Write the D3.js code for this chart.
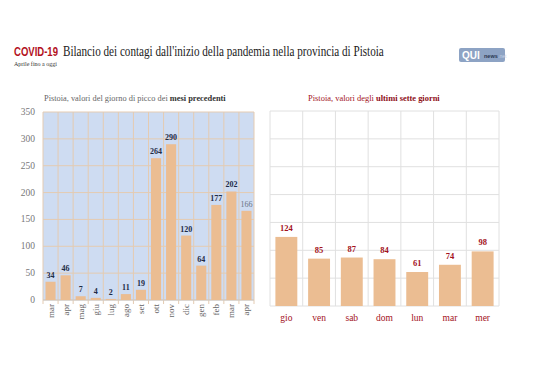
<!DOCTYPE html>
<html>
<head>
<meta charset="utf-8">
<script src="https://cdn.jsdelivr.net/npm/d3@7"></script>
<style>
  body { margin: 0; background: #fff; }
  svg { display: block; }
</style>
</head>
<body>
<div id="chart"></div>
<script>
// mesi precedenti (picco mensile)
var monthLabels = ["mar", "apr", "mag", "giu", "lug", "ago", "set", "ott", "nov", "dic", "gen", "feb", "mar", "apr"];
var monthValues = [34, 46, 7, 4, 2, 11, 19, 264, 290, 120, 64, 177, 202, 166];

// ultimi sette giorni
var dayLabels = ["gio", "ven", "sab", "dom", "lun", "mar", "mer"];
var dayValues = [124, 85, 87, 84, 61, 74, 98];

var yTicks = [0, 50, 100, 150, 200, 250, 300, 350];

var W = 538, H = 380;
var barColor = "#ebbd92";
var serif = "'Liberation Serif', 'DejaVu Serif', serif";
var sans = "'Liberation Sans', 'DejaVu Sans', sans-serif";

var svg = d3.select("#chart").append("svg")
  .attr("width", W).attr("height", H)
  .attr("font-family", serif);

// adatta la dimensione del font per ottenere la larghezza voluta
function fit(sel, width) {
  var node = sel.node();
  var fs = parseFloat(sel.style("font-size"));
  var len = node.getComputedTextLength();
  if (len > 0) sel.style("font-size", (fs * width / len) + "px");
}

// comprime orizzontalmente un testo posto in (x, y)
function squeeze(sel, x, y, width) {
  var len = sel.node().getComputedTextLength();
  sel.attr("x", 0).attr("y", 0)
    .attr("transform", "translate(" + x + "," + y + ") scale(" + (width / len) + ",1)");
}

// titolo
var c19 = svg.append("text")
  .attr("font-family", sans)
  .style("font-weight", "bold")
  .style("font-size", "13px")
  .attr("fill", "#b3121d")
  .text("COVID-19");
squeeze(c19, 14, 56, 44);

var tt = svg.append("text")
  .attr("font-family", serif)
  .style("font-size", "14.5px")
  .attr("fill", "#222")
  .text("Bilancio dei contagi dall'inizio della pandemia nella provincia di Pistoia");
squeeze(tt, 63, 56, 321);

var st = svg.append("text")
  .attr("x", 14).attr("y", 66)
  .style("font-size", "7px")
  .attr("fill", "#333")
  .text("Aprile fino a oggi");
fit(st, 43);

// logo
var logo = svg.append("g").attr("transform", "translate(459,48)");
logo.append("rect").attr("width", 46).attr("height", 14).attr("rx", 2)
  .attr("fill", "#8da3c4");
logo.append("text").attr("x", 3).attr("y", 11)
  .attr("font-family", sans)
  .style("font-weight", "bold").style("font-size", "10px")
  .attr("fill", "#fff").text("QUI");
logo.append("text").attr("x", 25).attr("y", 10)
  .attr("font-family", sans)
  .style("font-weight", "bold").style("font-size", "5.5px")
  .attr("fill", "#2b3550").text("news");
logo.append("text").attr("x", 39).attr("y", 10)
  .attr("font-family", sans)
  .style("font-size", "5px")
  .attr("fill", "#c8d4e6").text(".net");

// ---------- grafico di sinistra ----------
var left = { x0: 43, x1: 254, y0: 300, y1: 112 };

var xL = d3.scaleBand()
  .domain(d3.range(monthLabels.length))
  .range([left.x0, left.x1])
  .paddingInner(0.33).paddingOuter(0.165);

var yL = d3.scaleLinear().domain([0, 350]).range([left.y0, left.y1]);

var gL = svg.append("g");

gL.append("rect")
  .attr("x", left.x0).attr("y", left.y1)
  .attr("width", left.x1 - left.x0).attr("height", left.y0 - left.y1)
  .attr("fill", "#cedcf2");

gL.selectAll(".hgrid").data(yTicks).enter().append("line")
  .attr("x1", left.x0).attr("x2", left.x1)
  .attr("y1", function(d) { return yL(d); })
  .attr("y2", function(d) { return yL(d); })
  .attr("stroke", "#e4cbb2").attr("stroke-width", 1);

gL.selectAll(".vgrid").data(d3.range(monthLabels.length + 1)).enter().append("line")
  .attr("x1", function(i) { return left.x0 + i * xL.step(); })
  .attr("x2", function(i) { return left.x0 + i * xL.step(); })
  .attr("y1", left.y1).attr("y2", left.y0 + 4)
  .attr("stroke", "#e4cbb2").attr("stroke-width", 1);

gL.append("line")
  .attr("x1", left.x0).attr("x2", left.x1)
  .attr("y1", left.y0).attr("y2", left.y0)
  .attr("stroke", "#c9c9c9");

gL.selectAll(".bar").data(monthValues).enter().append("rect")
  .attr("x", function(d, i) { return xL(i); })
  .attr("y", function(d) { return yL(d); })
  .attr("width", xL.bandwidth())
  .attr("height", function(d) { return left.y0 - yL(d); })
  .attr("fill", barColor);

gL.selectAll(".val").data(monthValues).enter().append("text")
  .attr("x", function(d, i) { return xL(i) + xL.bandwidth() / 2; })
  .attr("y", function(d) { return yL(d) - 4; })
  .attr("text-anchor", "middle")
  .style("font-size", "8px")
  .style("font-weight", function(d, i) { return i === monthValues.length - 1 ? "normal" : "bold"; })
  .attr("fill", function(d, i) { return i === monthValues.length - 1 ? "#6a7384" : "#1f2b45"; })
  .text(function(d) { return d; });

gL.selectAll(".ytick").data(yTicks).enter().append("text")
  .attr("x", 35)
  .attr("y", function(d) { return yL(d) + 3; })
  .attr("text-anchor", "end")
  .style("font-size", "9.5px")
  .attr("fill", "#777")
  .text(function(d) { return d; });

gL.selectAll(".xlab").data(monthLabels).enter().append("text")
  .attr("transform", function(d, i) {
    return "translate(" + (xL(i) + xL.bandwidth() / 2 + 3) + "," + (left.y0 + 4) + ") rotate(-90)";
  })
  .attr("text-anchor", "end")
  .style("font-size", "9px")
  .attr("fill", "#666")
  .text(function(d) { return d; });

var tL = svg.append("text").attr("x", 44).attr("y", 101)
  .style("font-size", "9px");
tL.append("tspan").attr("fill", "#666").text("Pistoia, valori del giorno di picco dei ");
tL.append("tspan").attr("fill", "#333").style("font-weight", "bold").text("mesi precedenti");
fit(tL, 182);

// ---------- grafico di destra ----------
var right = { x0: 270, x1: 499, y0: 306, y1: 111 };

var xR = d3.scaleBand()
  .domain(dayLabels)
  .range([right.x0, right.x1])
  .paddingInner(0.33).paddingOuter(0.165);

var yR = d3.scaleLinear().domain([0, 350]).range([right.y0, right.y1]);

var gR = svg.append("g");

gR.selectAll(".hgrid").data(yTicks).enter().append("line")
  .attr("x1", right.x0).attr("x2", right.x1)
  .attr("y1", function(d) { return yR(d); })
  .attr("y2", function(d) { return yR(d); })
  .attr("stroke", "#e0e0e0");

gR.selectAll(".vgrid").data(d3.range(dayLabels.length + 1)).enter().append("line")
  .attr("x1", function(i) { return right.x0 + i * xR.step(); })
  .attr("x2", function(i) { return right.x0 + i * xR.step(); })
  .attr("y1", right.y1).attr("y2", right.y0)
  .attr("stroke", "#e0e0e0");

gR.selectAll(".bar").data(dayValues).enter().append("rect")
  .attr("x", function(d, i) { return xR(dayLabels[i]); })
  .attr("y", function(d) { return yR(d); })
  .attr("width", xR.bandwidth())
  .attr("height", function(d) { return right.y0 - yR(d); })
  .attr("fill", barColor);

gR.selectAll(".val").data(dayValues).enter().append("text")
  .attr("x", function(d, i) { return xR(dayLabels[i]) + xR.bandwidth() / 2; })
  .attr("y", function(d) { return yR(d) - 6; })
  .attr("text-anchor", "middle")
  .style("font-size", "8.5px")
  .style("font-weight", "bold")
  .attr("fill", "#a3121c")
  .text(function(d) { return d; });

gR.selectAll(".xlab").data(dayLabels).enter().append("text")
  .attr("x", function(d) { return xR(d) + xR.bandwidth() / 2; })
  .attr("y", 321)
  .attr("text-anchor", "middle")
  .style("font-size", "9.5px")
  .attr("fill", "#a3121c")
  .text(function(d) { return d; });

var tR = svg.append("text").attr("x", 308).attr("y", 101)
  .style("font-size", "9px");
tR.append("tspan").attr("fill", "#a3121c").text("Pistoia, valori degli ");
tR.append("tspan").attr("fill", "#8e0f18").style("font-weight", "bold").text("ultimi sette giorni");
fit(tR, 132);
</script>
</body>
</html>
